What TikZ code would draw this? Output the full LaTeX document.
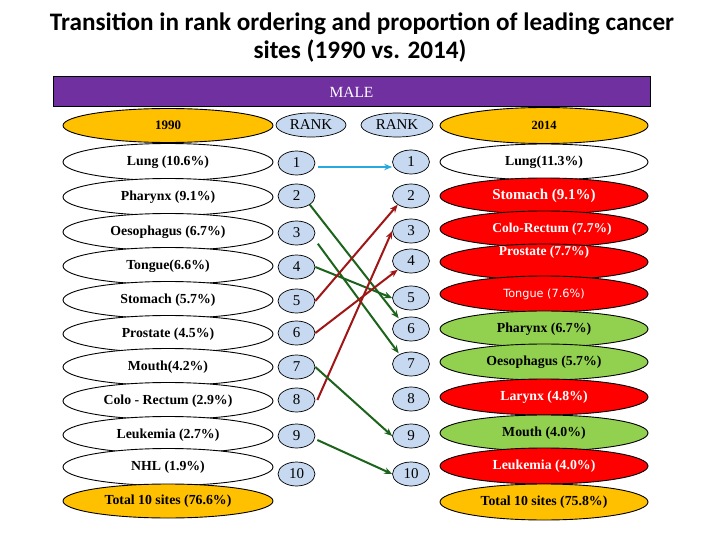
\documentclass[tikz,border=0pt]{standalone}
\usepackage{fontspec}
\setmainfont{Liberation Serif}
\newfontfamily\titlefont{Carlito}
\newfontfamily\tahomafont{DejaVu Sans}
\usetikzlibrary{arrows.meta,shapes.geometric}
\definecolor{malepurple}{HTML}{7030A0}
\definecolor{hdrorange}{HTML}{FFC000}
\definecolor{upred}{HTML}{FF0000}
\definecolor{downgreen}{HTML}{92D050}
\definecolor{rankblue}{HTML}{C6D9F1}
\definecolor{arrblue}{HTML}{29A8E0}
\definecolor{arrgreen}{RGB}{28,100,28}
\definecolor{arrred}{RGB}{160,22,22}
\begin{document}
\begin{tikzpicture}[x=1pt,y=-1pt,
  colbox/.style={ellipse, draw=black, line width=0.9pt, minimum width=210pt, minimum height=37pt, inner sep=0pt, fill=white, font=\fontsize{13.8}{16}\selectfont\bfseries},
  rcol/.style={colbox, minimum width=208pt, minimum height=36pt},
  redbox/.style={rcol, fill=upred, text=white},
  greenbox/.style={rcol, fill=downgreen},
  hdrbox/.style={fill=hdrorange},
  rankbox/.style={ellipse, draw=black, line width=0.7pt, fill=rankblue, minimum width=37pt, minimum height=24pt, inner sep=0pt, font=\fontsize{15}{18}\selectfont},
  conn/.style={line width=2pt, -{Stealth[length=8pt,width=6.5pt]}}
]
\useasboundingbox (0,0) rectangle (720,540);
\fill[white] (0,0) rectangle (720,540);

% title
\node[anchor=base, font=\titlefont\fontsize{25.2}{28}\selectfont\bfseries] (title1) at (362,31) {Transition in rank ordering and proportion of leading cancer};
\node[anchor=base, font=\titlefont\fontsize{25.2}{28}\selectfont\bfseries] (title2) at (360,59) {sites (1990 vs. 2014)};

% banner
\node[draw=black, line width=1pt, fill=malepurple, text=white, minimum width=597pt, minimum height=30pt, inner sep=0pt, font=\fontsize{15.5}{18}\selectfont] (male) at (351.5,92) {MALE};

% left column
\node[colbox, hdrbox, minimum height=34pt, font=\fontsize{13}{16}\selectfont\bfseries] (h1990) at (168,125.5) {1990};
\node[colbox] (a1) at (168,162) {Lung (10.6\%)};
\node[colbox] (a2) at (168,197) {Pharynx (9.1\%)};
\node[colbox] (a3) at (168,232) {Oesophagus (6.7\%)};
\node[colbox] (a4) at (168,266) {Tongue(6.6\%)};
\node[colbox] (a5) at (168,300) {Stomach (5.7\%)};
\node[colbox] (a6) at (168,334) {Prostate (4.5\%)};
\node[colbox] (a7) at (168,367) {Mouth(4.2\%)};
\node[colbox] (a8) at (168,401) {Colo - Rectum (2.9\%)};
\node[colbox] (a9) at (168,435) {Leukemia (2.7\%)};
\node[colbox] (a10) at (168,467) {NHL (1.9\%)};
\node[colbox, hdrbox, minimum height=34pt] (atot) at (168,501) {Total 10 sites (76.6\%)};

% right column
\node[rcol, hdrbox, font=\fontsize{12.5}{15}\selectfont\bfseries] (h2014) at (544,125.5) {2014};
\node[rcol] (b1) at (544,162) {Lung(11.3\%)};
\node[redbox, font=\fontsize{15}{18}\selectfont\bfseries] (b2) at (544,196) {\raisebox{-3pt}{Stomach (9.1\%)}};
\node[redbox, font=\fontsize{13.5}{16}\selectfont\bfseries] (b3) at (544,229) {\hspace{16pt}Colo-Rectum (7.7\%)};
\node[redbox, font=\fontsize{13.5}{16}\selectfont\bfseries] (b4) at (544,262) {\raisebox{7pt}[0pt][0pt]{Prostate (7.7\%)}};
\node[redbox, font=\tahomafont\fontsize{11.3}{14}\selectfont] (b5) at (544,294) {Tongue (7.6\%)};
\node[greenbox] (b6) at (544,329) {Pharynx (6.7\%)};
\node[greenbox] (b7) at (544,362) {Oesophagus (5.7\%)};
\node[redbox] (b8) at (544,397) {Larynx (4.8\%)};
\node[greenbox] (b9) at (544,433) {Mouth (4.0\%)};
\node[redbox] (b10) at (544,466) {Leukemia (4.0\%)};
\node[rcol, hdrbox] (btot) at (544,502) {Total 10 sites (75.8\%)};

% rank headers
\node[rankbox, minimum width=70pt] (rk1) at (311,125) {RANK};
\node[rankbox, minimum width=72pt] (rk2) at (397,125) {RANK};

% left ranks
\node[rankbox] (l1) at (296.5,163) {1};
\node[rankbox] (l2) at (296.5,196) {2};
\node[rankbox] (l3) at (296.5,233) {3};
\node[rankbox] (l4) at (296.5,267) {4};
\node[rankbox] (l5) at (296.5,301) {5};
\node[rankbox] (l6) at (296.5,333) {6};
\node[rankbox] (l7) at (296.5,367) {7};
\node[rankbox] (l8) at (296.5,400) {8};
\node[rankbox] (l9) at (296.5,436) {9};
\node[rankbox] (l10) at (296.5,474) {10};

% right ranks
\node[rankbox] (r1) at (411,162) {1};
\node[rankbox] (r2) at (411,196) {2};
\node[rankbox] (r3) at (411,231) {3};
\node[rankbox] (r4) at (411,261) {4};
\node[rankbox] (r5) at (411,298) {5};
\node[rankbox] (r6) at (411,329) {6};
\node[rankbox] (r7) at (411,364) {7};
\node[rankbox] (r8) at (411,399) {8};
\node[rankbox] (r9) at (411,436) {9};
\node[rankbox] (r10) at (411,474) {10};

% connectors
\draw[conn, arrblue] ([shift={(3pt,-4pt)}]l1.east) -- ([yshift=-5pt]r1.west);
\draw[conn, arrgreen] (l2.south east) -- ([shift={(1pt,2pt)}]r6.north west);
\draw[conn, arrgreen] ([shift={(8pt,-2pt)}]l3.south east) -- ([shift={(1pt,2pt)}]r7.north west);
\draw[conn, arrgreen] (l4.east) -- (r5.west);
\draw[conn, arrred] (l5.east) -- (r2.south west);
\draw[conn, arrred] (l6.east) -- (r4.south west);
\draw[conn, arrred] ([xshift=2pt]l8.east) -- (r3.west);
\draw[conn, arrgreen] (l7.east) -- (r9.west);
\draw[conn, arrgreen] ([shift={(2pt,-4pt)}]l9.east) -- (r10.west);
\end{tikzpicture}
\end{document}
